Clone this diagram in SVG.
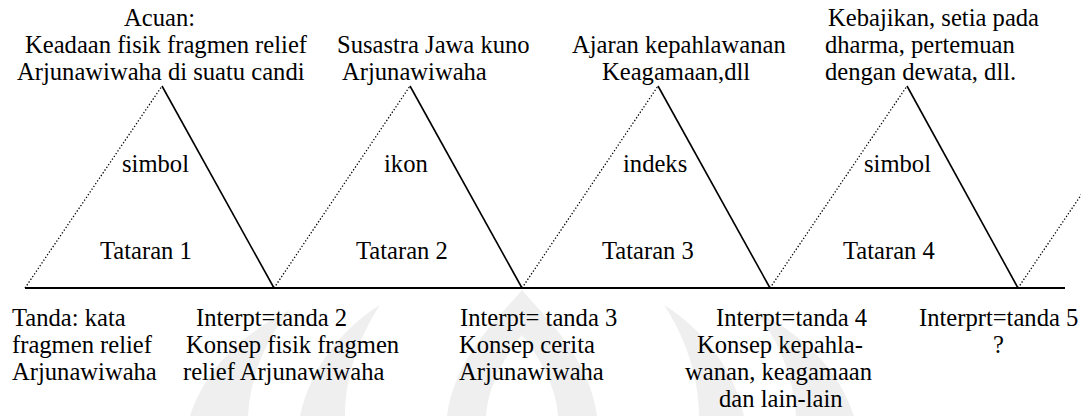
<svg xmlns="http://www.w3.org/2000/svg" width="1081" height="416" viewBox="0 0 1081 416">
<style>
text{font-family:"Liberation Serif","Times New Roman",serif;font-size:24.6px;fill:#000}
.solid{stroke:#000;stroke-width:1.6;fill:none}
.dot{stroke:#000;stroke-width:1.3;stroke-dasharray:1.3 2;fill:none}
.base{stroke:#000;stroke-width:2;fill:none}
.wm{fill:#efefef}
</style>
<rect width="1081" height="416" fill="#fff"/>
<g id="watermark">
<path class="wm" d="M522,290 C548,320 590,360 597,416 L447,416 C454,360 496,320 522,290 Z"/>
<path fill="#fff" d="M522,335 C538,355 556,385 558,416 L486,416 C488,385 506,355 522,335 Z"/>
<path class="wm" d="M300,416 C310,370 340,330 380,305 C360,335 345,375 345,416 Z"/>
<path class="wm" d="M744,416 C734,370 704,330 664,305 C684,335 699,375 699,416 Z"/>
<path class="wm" d="M190,416 C205,370 240,335 290,310 C265,340 250,378 248,416 Z"/>
<path class="wm" d="M854,416 C839,370 804,335 754,310 C779,340 794,378 796,416 Z"/>
</g>
<g id="connectors">
<line class="base" x1="25" y1="288" x2="1065" y2="288"/>
<line class="dot" x1="25" y1="288" x2="162" y2="86"/>
<line class="solid" x1="162" y1="86" x2="274" y2="288"/>
<line class="dot" x1="274" y1="288" x2="410" y2="86"/>
<line class="solid" x1="410" y1="86" x2="522" y2="288"/>
<line class="dot" x1="522" y1="288" x2="658" y2="86"/>
<line class="solid" x1="658" y1="86" x2="770" y2="288"/>
<line class="dot" x1="770" y1="288" x2="907" y2="86"/>
<line class="solid" x1="907" y1="86" x2="1018" y2="288"/>
<line class="dot" x1="1018" y1="288" x2="1155" y2="86"/>
</g>
<g id="acuan1">
<text x="124" y="26">Acuan:</text>
<text x="25" y="53">Keadaan fisik fragmen relief</text>
<text x="17" y="80">Arjunawiwaha di suatu candi</text>
</g>
<g id="acuan2">
<text x="337" y="53">Susastra Jawa kuno</text>
<text x="342" y="80">Arjunawiwaha</text>
</g>
<g id="acuan3">
<text x="572" y="53">Ajaran kepahlawanan</text>
<text x="602" y="80">Keagamaan,dll</text>
</g>
<g id="acuan4">
<text x="828" y="26">Kebajikan, setia pada</text>
<text x="825" y="53">dharma, pertemuan</text>
<text x="825" y="80">dengan dewata, dll.</text>
</g>
<g id="tataran1">
<text x="122" y="172">simbol</text>
<text x="100" y="259">Tataran 1</text>
</g>
<g id="tataran2">
<text x="384" y="172">ikon</text>
<text x="356" y="259">Tataran 2</text>
</g>
<g id="tataran3">
<text x="623" y="172">indeks</text>
<text x="602" y="259">Tataran 3</text>
</g>
<g id="tataran4">
<text x="864" y="172">simbol</text>
<text x="843" y="259">Tataran 4</text>
</g>
<g id="tanda1">
<text x="12" y="326">Tanda: kata</text>
<text x="12" y="353">fragmen relief</text>
<text x="12" y="380">Arjunawiwaha</text>
</g>
<g id="tanda2">
<text x="196" y="326">Interpt=tanda 2</text>
<text x="186" y="353">Konsep fisik fragmen</text>
<text x="183" y="380">relief Arjunawiwaha</text>
</g>
<g id="tanda3">
<text x="460" y="326">Interpt= tanda 3</text>
<text x="459" y="353">Konsep cerita</text>
<text x="459" y="380">Arjunawiwaha</text>
</g>
<g id="tanda4">
<text x="716" y="326">Interpt=tanda 4</text>
<text x="697" y="353">Konsep kepahla-</text>
<text x="685" y="380">wanan, keagamaan</text>
<text x="719" y="407">dan lain-lain</text>
</g>
<g id="tanda5">
<text x="919" y="326">Interprt=tanda 5</text>
<text x="993" y="353">?</text>
</g>
</svg>
